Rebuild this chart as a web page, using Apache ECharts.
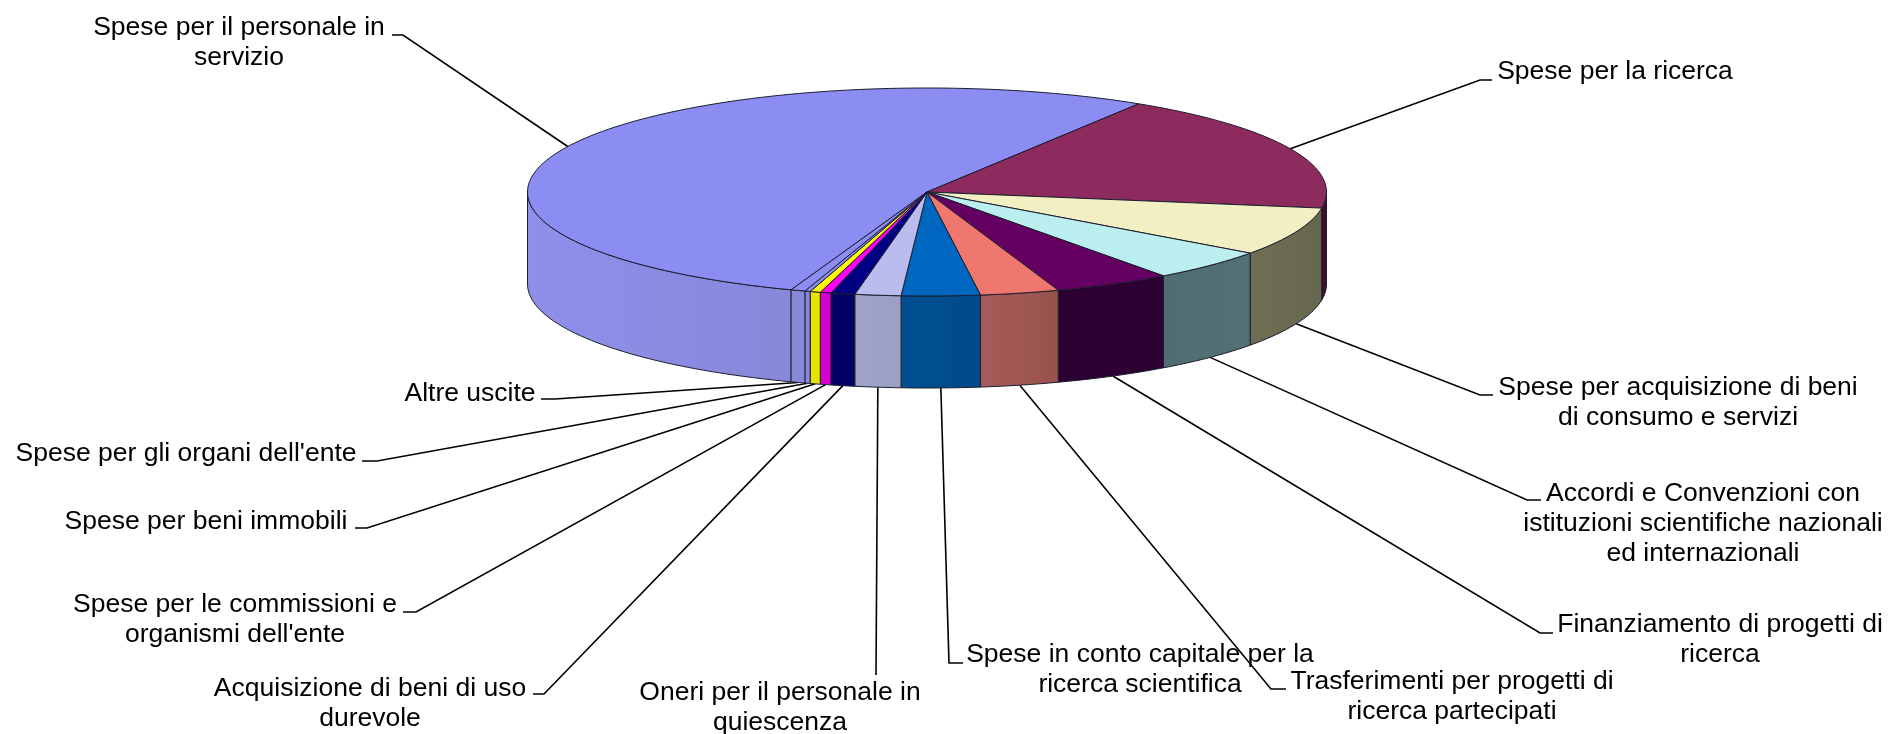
<!DOCTYPE html>
<html><head><meta charset="utf-8">
<style>html,body{margin:0;padding:0;background:#fff}#c{width:1890px;height:734px}</style>
<script src="https://cdn.jsdelivr.net/npm/echarts@6/dist/echarts.min.js"></script>
</head><body><div id="c"></div>
<script>
const categories = [
  "Spese per il personale in\nservizio",
  "Spese per la ricerca",
  "Spese per acquisizione di beni\ndi consumo e servizi",
  "Accordi e Convenzioni con\nistituzioni scientifiche nazionali\ned internazionali",
  "Finanziamento di progetti di\nricerca",
  "Trasferimenti per progetti di\nricerca partecipati",
  "Spese in conto capitale per la\nricerca scientifica",
  "Oneri per il personale in\nquiescenza",
  "Acquisizione di beni di uso\ndurevole",
  "Spese per le commissioni e\norganismi dell'ente",
  "Spese per beni immobili",
  "Spese per gli organi dell'ente",
  "Altre uscite"
];
const values = [53.36, 18.58, 7.53, 4.92, 4.75, 3.19, 3.17, 1.86, 0.97, 0.44, 0.42, 0.22, 0.58];
const topColors = ["#8B8DF2","#8E2B5E","#F2F0C2","#BAEEEF","#650062","#F0776D","#0067C0","#B9BCEC","#000082","#FF00F5","#FFFF00","#8B8DF2","#8B8DF2"];
const wallColors = [["#8E8FEA","#8888DA"],["#4A1030","#3A0C28"],["#6E6F52","#66674E"],["#4F6D70","#547074"],["#2C0033","#2C0033"],["#A65C58","#98524C"],["#004F92","#004A88"],["#A0A2C8","#9C9EC4"],["#000066","#000066"],["#D800D0","#D800D0"],["#E4E400","#E4E400"],["#8888DA","#8888DA"],["#8888DA","#8888DA"]];

// pie geometry and label placement (pixels)
const geom = { cx: 927, cy: 192, rx: 399.5, ry: 104, depth: 92, startDeg: 32 };
const labelCenters = [[239,28],[1615,72],[1678,388],[1703,494],[1720,625],[1452,682],[1140,655],[780,693],[370,689],[235,605],[206,522],[186,454],[470,394]];
const elbows = [[[392,35],[403,35]],[[1492,80],[1480,80]],[[1493,395],[1480,395]],[[1541,500],[1527,500]],[[1553,633],[1540,633]],[[1286,689],[1271,689]],[[963,663],[949,663]],[[876,675],[876,675]],[[533,694],[544,694]],[[403,612],[416,612]],[[355,528],[367,528]],[[362,461],[377,461]],[[541,399],[555,399]]];
const fontFamily = '"Liberation Sans", Arial, sans-serif';

const total = values.reduce((a,b)=>a+b,0);
const spans = [[geom.startDeg-values[0]/total*360, geom.startDeg]];
{ let a = geom.startDeg; for (let i=1;i<values.length;i++){ const s=values[i]/total*360; spans[i]=[a,a+s]; a+=s; } }
function pt(deg, dz){ const r=deg*Math.PI/180; return [geom.cx+geom.rx*Math.sin(r), geom.cy-geom.ry*Math.cos(r)+(dz||0)]; }
function arc(a,b,dz){ const n=Math.max(2,Math.ceil(Math.abs(b-a)/1.5)); const out=[]; for(let i=0;i<=n;i++) out.push(pt(a+(b-a)*i/n,dz)); return out; }
const EDGE = '#1d1d30';

// the front of the disc runs from 90 to 270 degrees clockwise from the top
function frontSpan(i){
  let [a,b]=spans[i];
  if (a<0) a+=360;
  if (b<a) b+=360;
  return [Math.max(a,90), Math.min(b,270)];
}
function renderWall(params, api){
  const i = api.value(0);
  const [a,b]=frontSpan(i);
  if (b<=a) return { type:'group', children:[] };
  const top=arc(a,b,0), bot=arc(b,a,geom.depth);
  const xs=[pt(a)[0],pt(b)[0]];
  const c=wallColors[i];
  return { type:'polygon', shape:{points:top.concat(bot)}, style:{
    fill:{type:'linear',x:Math.min(...xs),y:0,x2:Math.max(...xs),y2:0,global:true,colorStops:[{offset:0,color:c[0]},{offset:1,color:c[1]}]},
    stroke:EDGE, lineWidth:1 } };
}
function renderTop(params, api){
  const i = api.value(0);
  const [a,b]=spans[i];
  return { type:'polygon', shape:{points:[[geom.cx,geom.cy]].concat(arc(a,b,0))}, style:{fill:topColors[i],stroke:EDGE,lineWidth:1} };
}
function renderLeader(params, api){
  const i = api.value(0);
  const [a,b]=spans[i]; const nm=(((a+b)/2%360)+360)%360;
  const front = nm>92 && nm<268;
  const end = pt(nm, front?geom.depth:0);
  const e = elbows[i];
  return { type:'polyline', shape:{points:[e[0], e[1], end]}, style:{stroke:'#000',lineWidth:1.6,fill:null} };
}
function renderLabel(params, api){
  const i = api.value(0); const p = labelCenters[i];
  return { type:'text', style:{ x:p[0], y:p[1]-15, text:categories[i], textAlign:'center', textVerticalAlign:'top', font:'26.5px '+fontFamily, fill:'#000', lineHeight:30 } };
}
const rows = values.map((v,i)=>[i,v,categories[i]]);
const chart = echarts.init(document.getElementById('c'));
const mk=(name,fn,z)=>({type:'custom',name,coordinateSystem:'none',data:rows,renderItem:fn,z,silent:true,animation:false,clip:false,encode:{value:1,itemName:2}});
chart.setOption({ animation:false, backgroundColor:'#fff',
  series:[ mk('leaders',renderLeader,1), mk('walls',renderWall,2), mk('tops',renderTop,3), mk('labels',renderLabel,4) ] });
</script></body></html>
